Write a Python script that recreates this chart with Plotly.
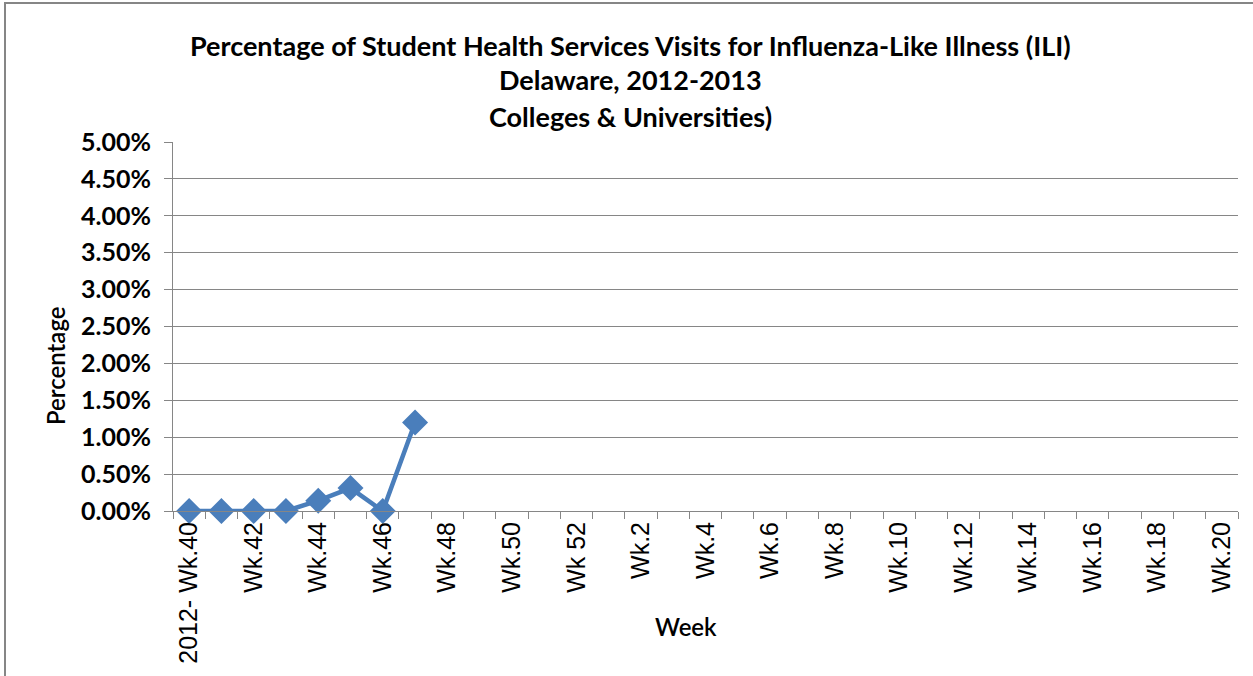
import plotly.graph_objects as go

weeks = [f"Wk.{w}" for w in range(40, 53)] + [f"Wk.{w}" for w in range(1, 21)]
week_labels = ["2012- Wk.40", "", "Wk.42", "", "Wk.44", "", "Wk.46", "", "Wk.48", "",
               "Wk.50", "", "Wk 52", "", "Wk.2", "", "Wk.4", "", "Wk.6", "", "Wk.8", "",
               "Wk.10", "", "Wk.12", "", "Wk.14", "", "Wk.16", "", "Wk.18", "", "Wk.20"]
observed_weeks = ["Wk.40", "Wk.41", "Wk.42", "Wk.43", "Wk.44", "Wk.45", "Wk.46", "Wk.47"]
ili_pct = [0.0, 0.0, 0.0, 0.0, 0.0014, 0.0031, 0.0, 0.0120]
y_ticks = [i * 0.005 for i in range(11)]
title_lines = ["Percentage of Student Health Services Visits for Influenza-Like Illness (ILI)",
               "Delaware, 2012-2013",
               "Colleges &amp; Universities)"]

W, H = 1253, 676
L, R, T, B = 173, 15, 142, 165
pw, ph = W - L - R, H - T - B

def px(x):
    return (x - L) / pw

def py(y):
    return (H - B - y) / ph

FONT = "Lato, Carlito, Calibri, Open Sans, sans-serif"

fig = go.Figure()
fig.add_trace(go.Scatter(
    x=observed_weeks, y=ili_pct, mode="lines+markers",
    line=dict(color="#4A7EBB", width=4.5),
    marker=dict(symbol="diamond", size=20, color="#4A7EBB"),
    cliponaxis=False, showlegend=False))

fig.update_layout(
    width=W, height=H, paper_bgcolor="white", plot_bgcolor="white",
    margin=dict(l=L, r=R, t=T, b=B),
    font=dict(family=FONT, color="black"),
    xaxis=dict(
        type="category", categoryorder="array", categoryarray=weeks,
        range=[-0.5, len(weeks) - 0.5],
        tickmode="array", tickvals=weeks, ticktext=week_labels,
        tickson="boundaries", ticks="outside", ticklen=7, tickcolor="#868686",
        tickangle=-90, tickfont=dict(size=25, family="Liberation Sans, Arial", color="black"),
        showline=True, linecolor="#868686", linewidth=1,
        showgrid=False, zeroline=False),
    yaxis=dict(
        range=[0, 0.05], tickmode="array", tickvals=y_ticks,
        ticktext=[f"{v*100:.2f}%" for v in y_ticks],
        ticks="outside", ticklen=8, tickcolor="#868686", ticklabelstandoff=8,
        tickfont=dict(size=25, family=FONT, color="black", weight="bold"),
        showline=True, linecolor="#868686", linewidth=1,
        showgrid=True, gridcolor="#868686", gridwidth=1, zeroline=False),
)

title_y = [46, 79, 116]
for txt, yy in zip(title_lines, title_y):
    fig.add_annotation(text=txt, xref="paper", yref="paper", x=px(630), y=py(yy),
                       showarrow=False, xanchor="center", yanchor="middle",
                       font=dict(size=27, family=FONT, color="black", weight="bold"))

fig.add_annotation(text="Percentage", xref="paper", yref="paper",
                   x=px(55), y=py(366), textangle=-90,
                   showarrow=False, font=dict(size=24, family=FONT, weight=600),
                   xanchor="center", yanchor="middle")
fig.add_annotation(text="Week", xref="paper", yref="paper",
                   x=px(686), y=py(626),
                   showarrow=False, font=dict(size=24, family=FONT, weight=600),
                   xanchor="center", yanchor="middle")

# outer chart border
fig.add_shape(type="rect", xref="paper", yref="paper",
              x0=px(5), x1=px(W + 20), y0=py(H + 20), y1=py(3),
              line=dict(color="#868686", width=2), fillcolor="rgba(0,0,0,0)", layer="below")

fig.write_html("out.html", config={"displayModeBar": False},
               post_script="document.body.style.margin='0';document.body.style.overflow='hidden';")
